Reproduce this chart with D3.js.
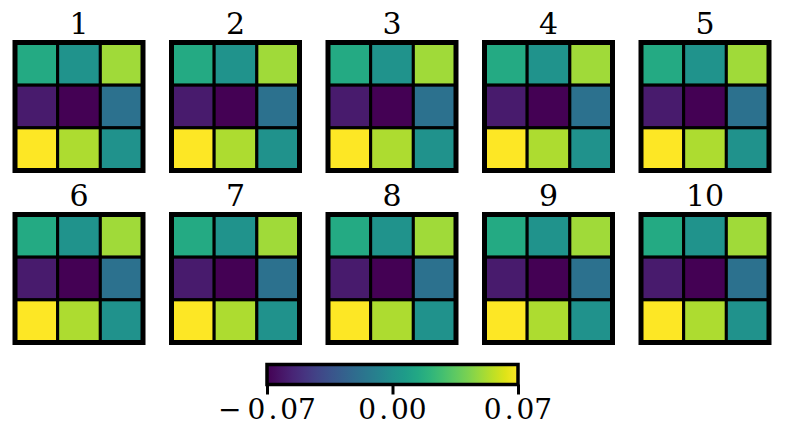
<!DOCTYPE html>
<html>
<head>
<meta charset="utf-8">
<script src="https://cdn.jsdelivr.net/npm/d3@7"></script>
<style>
  html, body { margin: 0; padding: 0; background: #fff; }
  svg { display: block; }
</style>
</head>
<body>
<svg id="chart" width="785" height="430"></svg>
<script>
// ---- data ----
const panelTitles = ["1", "2", "3", "4", "5", "6", "7", "8", "9", "10"];
const rowIndex = [0, 1, 2];
const colIndex = [0, 1, 2];
const panelValues = [
  [[0.015, 0.002, 0.050], [-0.060, -0.070, -0.018], [0.070, 0.053, 0.001]],
  [[0.015, 0.002, 0.050], [-0.060, -0.070, -0.018], [0.070, 0.053, 0.001]],
  [[0.015, 0.002, 0.050], [-0.060, -0.070, -0.018], [0.070, 0.053, 0.001]],
  [[0.015, 0.002, 0.050], [-0.060, -0.070, -0.018], [0.070, 0.053, 0.001]],
  [[0.015, 0.002, 0.050], [-0.060, -0.070, -0.018], [0.070, 0.053, 0.001]],
  [[0.015, 0.002, 0.050], [-0.060, -0.070, -0.018], [0.070, 0.053, 0.001]],
  [[0.015, 0.002, 0.050], [-0.060, -0.070, -0.018], [0.070, 0.053, 0.001]],
  [[0.015, 0.002, 0.050], [-0.060, -0.070, -0.018], [0.070, 0.053, 0.001]],
  [[0.015, 0.002, 0.050], [-0.060, -0.070, -0.018], [0.070, 0.053, 0.001]],
  [[0.015, 0.002, 0.050], [-0.060, -0.070, -0.018], [0.070, 0.053, 0.001]]
];
const colorDomain = [-0.07, 0.07];
const colorbarTicks = [-0.07, 0.00, 0.07];
const colorbarTickLabels = ["\u22120.07", "0.00", "0.07"];

// ---- layout ----
const svg = d3.select("#chart");
const panelSize = 128;
const panelX = d3.scaleLinear().domain([0, 4]).range([15, 641]);
const panelY = d3.scaleOrdinal().domain([0, 1]).range([42.5, 214.5]);
const cellX = d3.scaleBand().domain(colIndex).range([0, panelSize]);
const cellY = d3.scaleBand().domain(rowIndex).range([0, panelSize]);
const color = d3.scaleSequential(d3.interpolateViridis).domain(colorDomain);
const serif = "'DejaVu Serif', serif";

panelValues.forEach((mat, i) => {
  const col = i % 5, row = Math.floor(i / 5);
  const g = svg.append("g")
    .attr("transform", `translate(${panelX(col)},${panelY(row)})`);
  const cells = [];
  mat.forEach((r, ri) => r.forEach((v, ci) => cells.push({ri, ci, v})));
  g.selectAll("rect.cell").data(cells).join("rect")
    .attr("class", "cell")
    .attr("x", d => cellX(d.ci))
    .attr("y", d => cellY(d.ri))
    .attr("width", cellX.bandwidth())
    .attr("height", cellY.bandwidth())
    .attr("fill", d => color(d.v))
    .attr("stroke", "#000")
    .attr("stroke-width", 3);
  g.append("rect")
    .attr("x", 0).attr("y", 0)
    .attr("width", panelSize).attr("height", panelSize)
    .attr("fill", "none")
    .attr("stroke", "#000")
    .attr("stroke-width", 5);
  g.append("text")
    .attr("x", panelSize / 2)
    .attr("y", -8.5)
    .attr("text-anchor", "middle")
    .attr("font-family", serif)
    .attr("font-size", 30)
    .attr("fill", "#000")
    .text(panelTitles[i]);
});

// ---- colorbar ----
const cbX0 = 267, cbX1 = 518, cbY = 364.5, cbH = 20;
const cbScale = d3.scaleLinear().domain(colorDomain).range([cbX0, cbX1]);
const defs = svg.append("defs");
const grad = defs.append("linearGradient").attr("id", "viridisGrad")
  .attr("x1", "0%").attr("x2", "100%").attr("y1", "0%").attr("y2", "0%");
d3.range(0, 1.0001, 0.05).forEach(t => {
  grad.append("stop").attr("offset", (t * 100) + "%").attr("stop-color", d3.interpolateViridis(t));
});
svg.append("rect")
  .attr("x", cbX0).attr("y", cbY)
  .attr("width", cbX1 - cbX0).attr("height", cbH)
  .attr("fill", "url(#viridisGrad)")
  .attr("stroke", "#000")
  .attr("stroke-width", 3.5);

const axis = d3.axisBottom(cbScale).tickValues(colorbarTicks).tickSize(10).tickFormat("");
const axG = svg.append("g").attr("transform", `translate(0,${cbY + cbH})`).call(axis);
axG.select(".domain").remove();
axG.selectAll(".tick line").attr("stroke", "#000").attr("stroke-width", 3);

colorbarTicks.forEach((t, i) => {
  const label = colorbarTickLabels[i];
  const txt = svg.append("text")
    .attr("x", cbScale(t))
    .attr("y", 419)
    .attr("text-anchor", "middle")
    .attr("font-family", serif)
    .attr("font-size", 28)
    .attr("fill", "#000");
  let rest = label;
  if (rest.startsWith("\u2212")) {
    txt.append("tspan").text("\u2212");
    rest = rest.slice(1);
    txt.append("tspan").attr("dx", 6).text(rest.split(".")[0]);
  } else {
    txt.append("tspan").text(rest.split(".")[0]);
  }
  txt.append("tspan").attr("dx", 3).text(".");
  txt.append("tspan").attr("dx", 3).text(rest.split(".")[1]);
});
</script>
</body>
</html>
